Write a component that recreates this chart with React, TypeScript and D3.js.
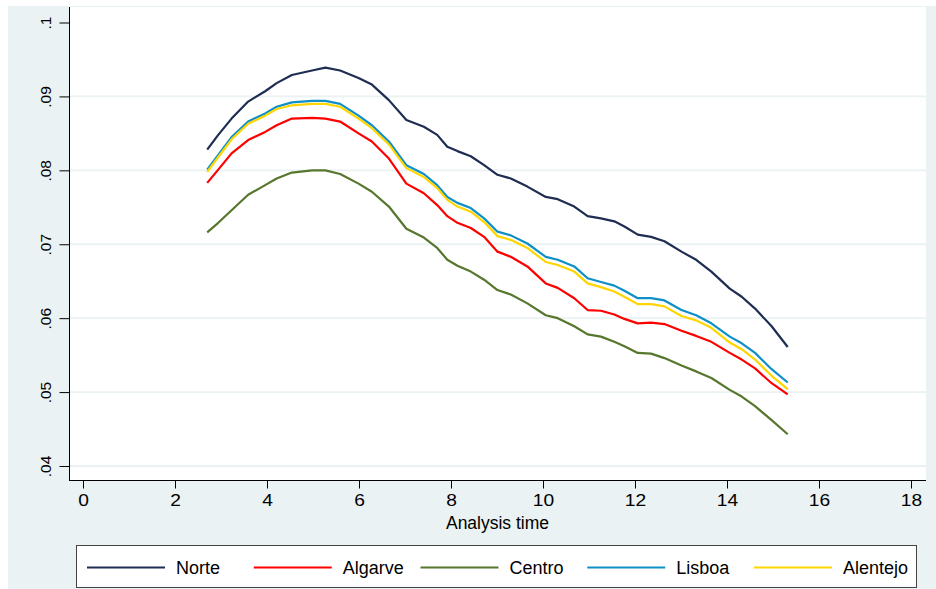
import { useEffect, useRef } from "react";
import * as d3 from "d3";

// analysis time grid
const times = [
  2.7, 2.94, 3.23, 3.59, 3.96, 4.21, 4.54, 4.98, 5.27, 5.59, 5.99, 6.28, 6.65, 7.03, 7.41, 7.7, 7.92, 8.14,
  8.43, 8.72, 9.01, 9.3, 9.66, 10.06, 10.32, 10.68, 10.97, 11.26, 11.55, 11.77, 12.06, 12.35, 12.64, 13.01,
  13.33, 13.66, 14.06, 14.32, 14.61, 14.97, 15.32,
];

const norte = [
  0.0828, 0.0848, 0.087, 0.0893, 0.0907, 0.0918, 0.0929, 0.0935, 0.0939, 0.0935, 0.0925, 0.0916, 0.0895,
  0.0868, 0.0859, 0.0848, 0.0832, 0.0826, 0.0819, 0.0807, 0.0794, 0.0789, 0.0778, 0.0764, 0.0761, 0.0751,
  0.0738, 0.0735, 0.0731, 0.0724, 0.0713, 0.071, 0.0704, 0.069, 0.0679, 0.0663, 0.064, 0.0629, 0.0613,
  0.0589, 0.0561,
];
const algarve = [
  0.0783, 0.0801, 0.0823, 0.0841, 0.0852, 0.0861, 0.087, 0.0871, 0.087, 0.0866, 0.085, 0.0839, 0.0816,
  0.0782, 0.0769, 0.0753, 0.0738, 0.0729, 0.0722, 0.071, 0.069, 0.0683, 0.067, 0.0647, 0.0641, 0.0627,
  0.0611, 0.061, 0.0605, 0.0599, 0.0593, 0.0594, 0.0592, 0.0583, 0.0576, 0.0568, 0.0553, 0.0544, 0.0532,
  0.0512, 0.0497,
];
const centro = [
  0.0716, 0.0729, 0.0746, 0.0767, 0.078, 0.0789, 0.0797, 0.08, 0.08, 0.0795, 0.0782, 0.0771, 0.0751,
  0.0721, 0.0709, 0.0695, 0.0679, 0.0671, 0.0663, 0.0652, 0.0638, 0.0632, 0.062, 0.0604, 0.06, 0.0589,
  0.0578, 0.0575, 0.0568, 0.0562, 0.0553, 0.0552, 0.0546, 0.0536, 0.0528, 0.0519, 0.0503, 0.0494, 0.0481,
  0.0462, 0.0443,
];
const lisboa = [
  0.0801, 0.0821, 0.0845, 0.0866, 0.0877, 0.0886, 0.0892, 0.0894, 0.0894, 0.089, 0.0874, 0.0861, 0.0839,
  0.0807, 0.0795, 0.078, 0.0764, 0.0756, 0.0749, 0.0735, 0.0717, 0.0712, 0.0701, 0.0683, 0.0679, 0.067,
  0.0654, 0.0649, 0.0644, 0.0637, 0.0627, 0.0627, 0.0624, 0.0611, 0.0604, 0.0593, 0.0575, 0.0566, 0.0553,
  0.0531, 0.0513,
];
const alentejo = [
  0.0798, 0.0818, 0.0842, 0.0863, 0.0874, 0.0883, 0.0888, 0.089, 0.089, 0.0886, 0.087, 0.0857, 0.0835,
  0.0803, 0.0791, 0.0776, 0.076, 0.0751, 0.0744, 0.073, 0.0711, 0.0706, 0.0695, 0.0676, 0.0672, 0.0663,
  0.0647, 0.0642, 0.0636, 0.0629, 0.0619, 0.0619, 0.0616, 0.0603, 0.0597, 0.0587, 0.0567, 0.0558, 0.0544,
  0.0522, 0.0504,
];

const regions = ["Norte", "Algarve", "Centro", "Lisboa", "Alentejo"];
const seriesValues = [norte, algarve, centro, lisboa, alentejo];
const colors = ["#1e2d52", "#ff0000", "#56772d", "#0e8fc6", "#ffd500"];

const xTicks = [0, 2, 4, 6, 8, 10, 12, 14, 16, 18];
const yTicks = [0.04, 0.05, 0.06, 0.07, 0.08, 0.09, 0.1];
const yTickLabels = [".04", ".05", ".06", ".07", ".08", ".09", ".1"];
const xTitle = "Analysis time";

const W = 936;
const H = 589;
const BG = "#eaf2f3";
const FONT = "'Liberation Sans', Arial, sans-serif";
const plot = { left: 69, right: 926, top: 7, bottom: 480 };

export default function App() {
  const svgRef = useRef<SVGSVGElement | null>(null);

  useEffect(() => {
    const svg = d3.select(svgRef.current!);
    svg.selectAll("*").remove();

    const x = d3.scaleLinear().domain([0, 18]).range([83, 911]);
    const y = d3.scaleLinear().domain([0.04, 0.1]).range([466, 22.5]);

    // outer background (white margin at top/left like the crop)
    svg.append("rect").attr("width", W).attr("height", H).attr("fill", "#fff");
    svg.append("rect").attr("x", 8).attr("y", 6).attr("width", W - 8).attr("height", H - 6).attr("fill", BG);
    svg
      .append("rect")
      .attr("x", plot.left)
      .attr("y", plot.top)
      .attr("width", plot.right - plot.left)
      .attr("height", plot.bottom - plot.top)
      .attr("fill", "#fff");

    // gridlines
    svg
      .append("g")
      .selectAll("line")
      .data(yTicks.slice(0, -1))
      .join("line")
      .attr("x1", plot.left)
      .attr("x2", plot.right)
      .attr("y1", (d) => y(d))
      .attr("y2", (d) => y(d))
      .attr("stroke", BG)
      .attr("stroke-width", 1.8);

    // series
    const line = d3
      .line<number>()
      .x((_d, i) => x(times[i]))
      .y((d) => y(d));

    svg
      .append("g")
      .selectAll("path")
      .data(seriesValues)
      .join("path")
      .attr("fill", "none")
      .attr("stroke", (_d, i) => colors[i])
      .attr("stroke-width", 2.2)
      .attr("stroke-linejoin", "round")
      .attr("d", (d) => line(d));

    // axes
    const xAxis = d3
      .axisBottom(x)
      .tickValues(xTicks)
      .tickSize(8)
      .tickPadding(6)
      .tickFormat((d) => String(d));
    const gx = svg.append("g").attr("transform", `translate(0,${plot.bottom + 0.5})`).call(xAxis as any);
    gx.select(".domain").remove();
    gx.selectAll("line").attr("stroke", "#000");
    gx.selectAll("text")
      .attr("fill", "#000")
      .style("font-family", FONT)
      .style("font-size", "16px")
      .attr("transform", "scale(1.2,1)");

    const yAxis = d3
      .axisLeft(y)
      .tickValues(yTicks)
      .tickSize(10)
      .tickFormat((_d, i) => yTickLabels[i]);
    const gy = svg.append("g").attr("transform", `translate(${plot.left + 0.5},0)`).call(yAxis as any);
    gy.select(".domain").remove();
    gy.selectAll("line").attr("stroke", "#000");
    gy.selectAll("text")
      .attr("x", null)
      .attr("dy", null)
      .attr("fill", "#000")
      .attr("text-anchor", "middle")
      .attr("transform", "translate(-19,0) rotate(-90)")
      .style("font-family", FONT)
      .style("font-size", "15.5px");

    // axis lines
    svg
      .append("line")
      .attr("x1", plot.left + 0.5)
      .attr("x2", plot.left + 0.5)
      .attr("y1", plot.top)
      .attr("y2", plot.bottom + 1)
      .attr("stroke", "#000");
    svg
      .append("line")
      .attr("x1", plot.left)
      .attr("x2", plot.right)
      .attr("y1", plot.bottom + 0.5)
      .attr("y2", plot.bottom + 0.5)
      .attr("stroke", "#000");

    svg
      .append("text")
      .attr("x", (plot.left + plot.right) / 2)
      .attr("y", 529)
      .attr("text-anchor", "middle")
      .style("font-family", FONT)
      .style("font-size", "17.5px")
      .text(xTitle);

    // legend
    const legend = svg.append("g");
    legend
      .append("rect")
      .attr("x", 76.5)
      .attr("y", 545.5)
      .attr("width", 840)
      .attr("height", 42)
      .attr("fill", "#fff")
      .attr("stroke", "#444");
    const lx = d3.scaleLinear().domain([0, 4]).range([87, 754]);
    const items = legend
      .selectAll("g.item")
      .data(regions)
      .join("g")
      .attr("class", "item")
      .attr("transform", (_d, i) => `translate(${lx(i)},567.5)`);
    items
      .append("line")
      .attr("x1", 0)
      .attr("x2", 78)
      .attr("stroke", (_d, i) => colors[i])
      .attr("stroke-width", 2.2);
    items
      .append("text")
      .attr("x", 89)
      .attr("y", 6.5)
      .style("font-family", FONT)
      .style("font-size", "18px")
      .text((d) => d);
  }, []);

  return (
    <div style={{ position: "absolute", left: 0, top: 0 }}>
      <svg ref={svgRef} width={W} height={H} style={{ display: "block" }} />
    </div>
  );
}
